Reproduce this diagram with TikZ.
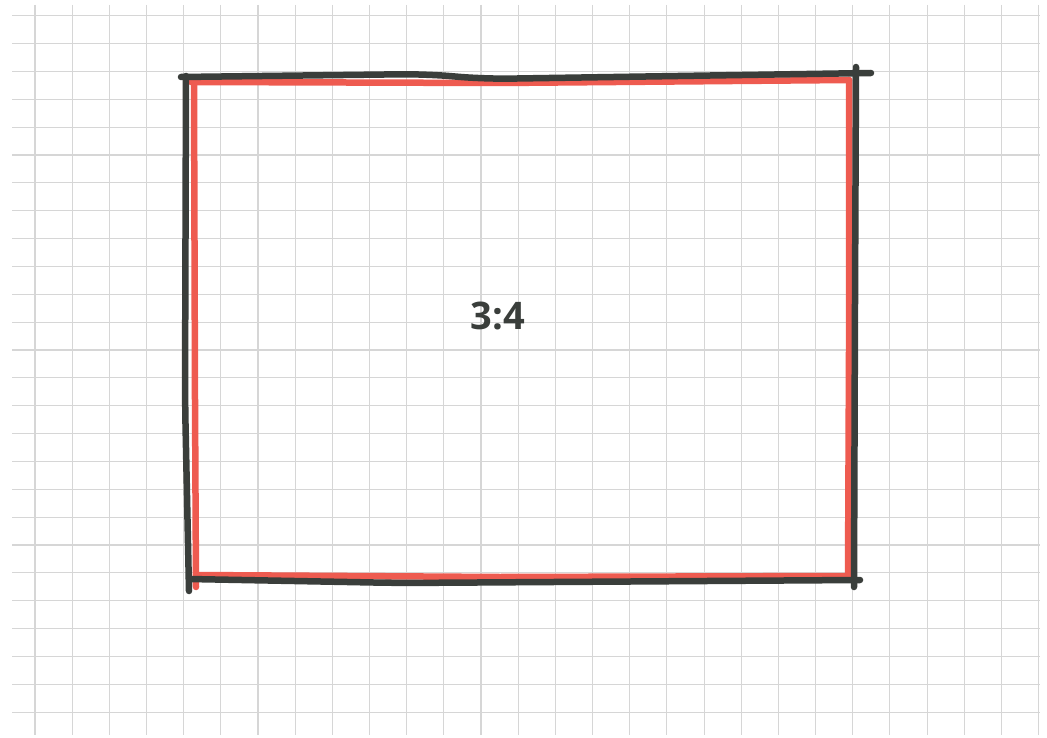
\documentclass[tikz,border=0pt]{standalone}
\usepackage{fontspec}
\setmainfont{Open Sans}
\usetikzlibrary{positioning}
\definecolor{mInk}{HTML}{3A3E3B}
\definecolor{mRed}{HTML}{EE5B50}
\definecolor{mGrid}{HTML}{D6D6D6}

\begin{document}
\begin{tikzpicture}[x=1pt, y=-1pt,
      gridline/.style={mGrid, line width=1.1pt},
      ink/.style={mInk, line width=6.5pt, line cap=round, line join=round, rounded corners=25pt},
      redpen/.style={mRed, line width=6.5pt, line cap=round, line join=round},
      lbl/.style={font=\fontsize{38}{44}\selectfont\bfseries, text=mInk, inner sep=0pt}]
    \useasboundingbox[fill=white] (0,0) rectangle (1047,738);
    % paper grid
    \foreach \k in {0,...,27} \draw[gridline] (35+37.17*\k, 5) -- (35+37.17*\k, 735);
    \foreach \k in {0,...,25} \draw[gridline] (12, 15.7+27.86*\k) -- (1040, 15.7+27.86*\k);
    % red frame
    \draw[redpen] (191,82) -- (500,83) -- (849,80);
    \draw[redpen] (194,82) -- (195,400) -- (196,587);
    \draw[redpen] (196,575) -- (500,577) -- (849,576);
    \draw[redpen] (849,80) -- (849,350) -- (848,576);
    % black frame
    \draw[ink] (181,77) -- (425,74) -- (485,79) -- (871,73);
    \draw[ink] (856,67) -- (855,300) -- (854,587);
    \draw[ink] (189,579) -- (400,583) -- (860,580);
    \draw[ink] (186,76) -- (185,400) -- (189,591);
    \node[lbl] (ratio) at (498,316) {3:4};
  \end{tikzpicture}
\end{document}
